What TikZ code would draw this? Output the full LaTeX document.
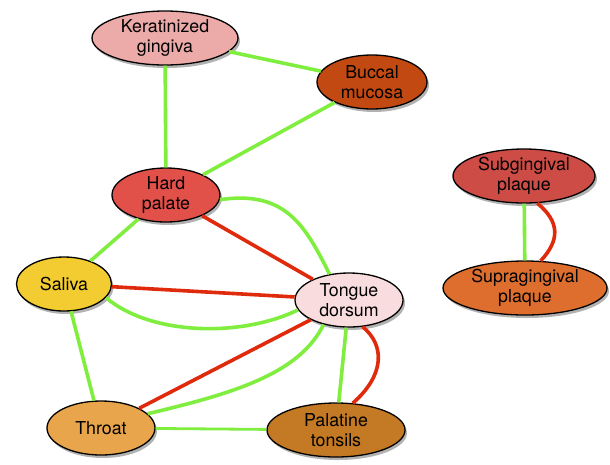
\documentclass[tikz,border=0pt]{standalone}
\usepackage{fontspec}
\setmainfont{TeX Gyre Heros}
\usetikzlibrary{shapes.geometric,shadows}
\definecolor{gEdge}{RGB}{128,238,62}
\definecolor{rEdge}{RGB}{224,42,12}
\definecolor{cKer}{RGB}{236,170,168}
\definecolor{cBuc}{RGB}{194,74,18}
\definecolor{cHar}{RGB}{226,80,74}
\definecolor{cSal}{RGB}{242,204,48}
\definecolor{cTon}{RGB}{249,221,222}
\definecolor{cThr}{RGB}{233,165,76}
\definecolor{cPal}{RGB}{196,121,36}
\definecolor{cSub}{RGB}{206,76,70}
\definecolor{cSup}{RGB}{221,110,46}
\tikzset{
  site/.style={ellipse, draw=black, line width=1.3pt, inner sep=0pt,
    align=center, font=\fontsize{17.8}{20}\selectfont,
    minimum height=54pt,
    drop shadow={shadow xshift=2pt, shadow yshift=-3pt, fill=black, opacity=0.3}},
  posedge/.style={draw=gEdge, line width=3.6pt},
  negedge/.style={draw=rEdge, line width=3.6pt},
}
\begin{document}
\begin{tikzpicture}[x=1pt, y=-1pt]
\fill[white] (0,0) rectangle (610,464);
\useasboundingbox (0,0) rectangle (610,464);
% nodes
\node[site, fill=cKer, minimum width=146pt] (ker) at (165,38) {Keratinized\\gingiva};
\node[site, fill=cBuc, minimum width=110pt] (buc) at (372,82) {Buccal\\mucosa};
\node[site, fill=cHar, minimum width=108pt] (har) at (166,195) {Hard\\palate};
\node[site, fill=cSal, minimum width=95pt] (sal) at (64,284) {Saliva};
\node[site, fill=cTon, minimum width=108pt] (ton) at (349,300) {Tongue\\dorsum};
\node[site, fill=cThr, minimum width=108pt] (thr) at (101,428) {Throat};
\node[site, fill=cPal, minimum width=138pt] (pal) at (336,430) {Palatine\\tonsils};
\node[site, fill=cSub, minimum width=142pt] (sub) at (524,176) {Subgingival\\plaque};
\node[site, fill=cSup, minimum width=164pt] (sup) at (525,288) {Supragingival\\plaque};
% edges
\draw[posedge] (ker) -- (buc);
\draw[posedge] (ker) -- (har);
\draw[posedge] (buc) -- (har);
\draw[negedge] (har) -- (ton);
\draw[posedge] (har.-5) .. controls (285,190) and (305,225) .. (ton.127);
\draw[posedge] (har) -- (sal);
\draw[negedge] (sal) -- (ton);
\draw[posedge] (sal.-18) .. controls (150,335) and (240,338) .. (ton.191);
\draw[posedge] (sal) -- (thr);
\draw[negedge] (thr) -- (ton);
\draw[posedge] (thr.17) .. controls (240,392) and (300,372) .. (ton.224);
\draw[posedge, line width=2.8pt] (thr) -- (pal);
\draw[posedge] (ton) -- (pal);
\draw[negedge] (ton.-63) .. controls (385,345) and (385,375) .. (pal.58);
\draw[posedge] (sub) -- (sup);
\draw[negedge] (sub.-64) .. controls (560,222) and (560,240) .. (sup.60);
\end{tikzpicture}
\end{document}
